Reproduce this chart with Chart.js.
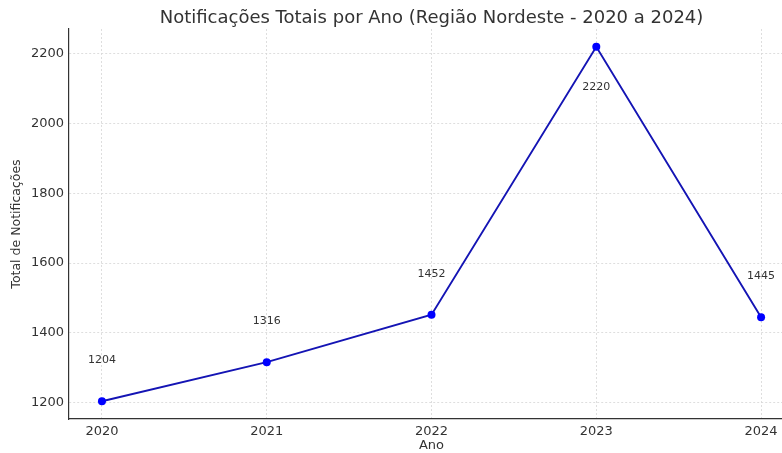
<!DOCTYPE html>
<html>
<head>
<meta charset="utf-8">
<script src="https://cdn.jsdelivr.net/npm/chart.js@4.4.1/dist/chart.umd.min.js"></script>
<style>
  html, body { margin: 0; padding: 0; background: #fff; }
  #wrap { width: 782px; height: 453px; }
</style>
</head>
<body>
<div id="wrap"><canvas id="grafico"></canvas></div>
<script>
const anos = [2020, 2021, 2022, 2023, 2024];
const totais = [1204, 1316, 1452, 2220, 1445];
const ticksY = [1200, 1400, 1600, 1800, 2000, 2200];
const titulo = 'Notificações Totais por Ano (Região Nordeste - 2020 a 2024)';
const tituloX = 'Ano';

const fonte = "'DejaVu Sans', sans-serif";
const cinza = '#333333';

// rótulos com o valor de cada ponto (o maior fica abaixo do ponto)
const rotulos = {
  id: 'rotulos',
  afterDatasetsDraw(chart) {
    const ctx = chart.ctx;
    const meta = chart.getDatasetMeta(0);
    const maior = Math.max(...totais);
    ctx.save();
    ctx.font = '11px ' + fonte;
    ctx.fillStyle = cinza;
    ctx.textAlign = 'center';
    ctx.textBaseline = 'middle';
    meta.data.forEach((p, i) => {
      const dy = totais[i] === maior ? 40 : -41;
      ctx.fillText(String(totais[i]), p.x, p.y + dy);
    });
    ctx.restore();
  }
};

// título e rótulo do eixo x centralizados sobre o eixo completo (2019.8 a 2024.2)
const tituloPlugin = {
  id: 'tituloPlugin',
  afterDraw(chart) {
    const ctx = chart.ctx;
    const x = chart.scales.x;
    const cx = (chart.chartArea.left + x.getPixelForValue(2024.2)) / 2;
    ctx.save();
    ctx.fillStyle = cinza;
    ctx.textAlign = 'center';
    ctx.textBaseline = 'middle';
    ctx.font = '18px ' + fonte;
    ctx.fillText(titulo, cx, 18);
    ctx.font = '13px ' + fonte;
    ctx.fillText(tituloX, cx, 446);
    ctx.restore();
  }
};

const ctx = document.getElementById('grafico').getContext('2d');
new Chart(ctx, {
  type: 'line',
  data: {
    datasets: [{
      data: anos.map((a, i) => ({ x: a, y: totais[i] })),
      borderColor: '#1414b4',
      borderWidth: 1.9,
      pointBackgroundColor: '#0000ff',
      pointBorderColor: '#0000ff',
      pointRadius: 4,
      pointBorderWidth: 0,
      tension: 0,
      clip: false
    }]
  },
  options: {
    responsive: true,
    maintainAspectRatio: false,
    animation: false,
    layout: { autoPadding: false, padding: { top: 29, right: 0, bottom: 0, left: 0 } },
    plugins: {
      legend: { display: false },
      tooltip: { enabled: false }
    },
    scales: {
      x: {
        type: 'linear',
        min: 2019.8,
        max: 2024.127,
        afterBuildTicks: (s) => { s.ticks = anos.map(v => ({ value: v })); },
        afterFit: (s) => { s.height = 34; s.paddingRight = 0; s.paddingLeft = 0; },
        ticks: {
          autoSkip: false,
          maxRotation: 0,
          padding: 5,
          color: cinza,
          font: { family: fonte, size: 13 },
          callback: (v) => String(v)
        },
        grid: { color: '#d6d6d6', lineWidth: 0.8, drawTicks: false },
        border: { color: cinza, width: 1.2, dash: [2, 2] },
        title: { display: false }
      },
      y: {
        min: 1153.2,
        max: 2270.8,
        afterBuildTicks: (s) => { s.ticks = ticksY.map(v => ({ value: v })); },
        afterFit: (s) => { s.width = 69; },
        ticks: {
          padding: 5,
          color: cinza,
          font: { family: fonte, size: 13 },
          callback: (v) => String(v)
        },
        grid: { color: '#d6d6d6', lineWidth: 0.8, drawTicks: false },
        border: { color: cinza, width: 1.2, dash: [2, 2] },
        title: {
          display: true,
          text: 'Total de Notificações',
          color: cinza,
          font: { family: fonte, size: 12.5 },
          padding: { top: 9, bottom: 0 }
        }
      }
    }
  },
  plugins: [rotulos, tituloPlugin]
});
</script>
</body>
</html>
